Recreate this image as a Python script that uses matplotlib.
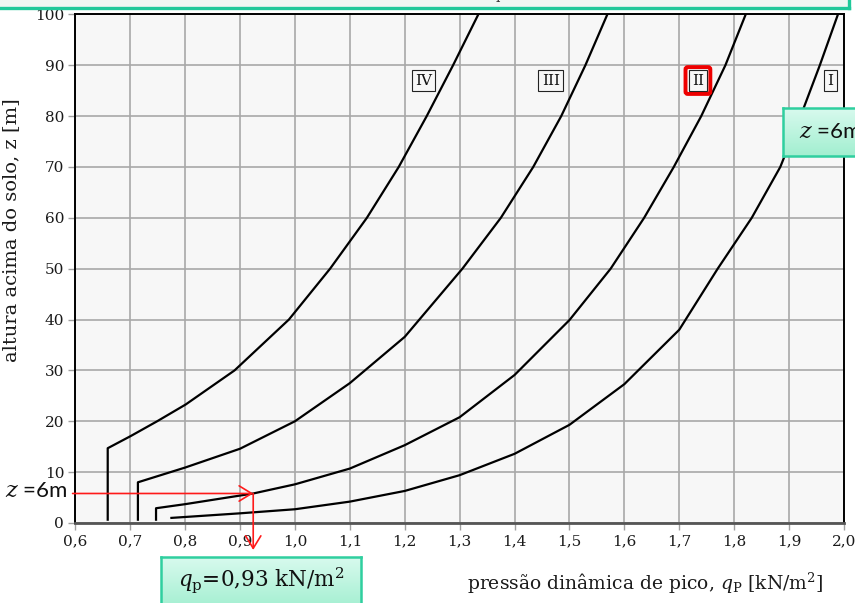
import numpy as np
import matplotlib
matplotlib.use("agg")
import matplotlib.pyplot as plt
from matplotlib.colors import LinearSegmentedColormap

plt.rcParams['font.family'] = ['DejaVu Serif']
plt.rcParams['mathtext.fontset'] = 'dejavuserif'

# curves: peak pressure qp [kN/m2] vs height z [m]
x_IV = [0.659, 0.659, 0.701, 0.749, 0.801, 0.890, 0.989, 1.064, 1.131, 1.189, 1.240, 1.288, 1.334]
z_IV = [0.65, 14.7, 17.1, 20.0, 23.3, 30.0, 40.0, 50.0, 60, 70, 80, 90, 100]
x_III = [0.714, 0.714, 0.800, 0.900, 1.000, 1.100, 1.200, 1.305, 1.375, 1.434, 1.485, 1.529, 1.569]
z_III = [0.65, 8.0, 10.9, 14.6, 20.0, 27.5, 36.6, 50, 60, 70, 80, 90, 100]
x_II = [0.747, 0.747, 0.800, 0.924, 1.000, 1.100, 1.200, 1.300, 1.400, 1.500, 1.575, 1.636, 1.690, 1.740, 1.784, 1.821]
z_II = [0.65, 2.9, 3.7, 5.8, 7.6, 10.7, 15.3, 20.8, 29.1, 39.9, 50, 60, 70, 80, 90, 100]
x_I = [0.775, 0.900, 1.000, 1.100, 1.200, 1.300, 1.400, 1.500, 1.600, 1.700, 1.770, 1.832, 1.884, 1.921, 1.956, 1.989]
z_I = [1.0, 1.9, 2.7, 4.2, 6.3, 9.4, 13.6, 19.3, 27.3, 38.0, 50, 60, 70, 80, 90, 100]

labels = ['IV', 'III', 'II', 'I']
label_x = [1.234, 1.466, 1.734, 1.975]
label_z = 87

z_pick = 5.8
q_pick = 0.924

xticks = np.round(np.arange(0.6, 2.01, 0.1), 1)
yticks = np.arange(0, 101, 10)

fig = plt.figure(figsize=(8.55, 6.03), dpi=100)
ax = fig.add_axes([0.0881, 0.1327, 0.8990, 0.8434])
ax.set_facecolor('#f7f7f7')

for xs, zs in [(x_IV, z_IV), (x_III, z_III), (x_II, z_II), (x_I, z_I)]:
	ax.plot(xs, zs, color='black', lw=1.6, zorder=3)

for lab, lx in zip(labels, label_x):
	if lab == 'II':
		ax.text(lx, label_z, lab, ha='center', va='center', fontsize=11, color='none', zorder=4,
				bbox=dict(boxstyle='round,pad=0.42,rounding_size=0.15', fc='none', ec='#ee0000', lw=2.8))
	ax.text(lx, label_z, lab, ha='center', va='center', fontsize=11, color='#111111', zorder=5,
			bbox=dict(boxstyle='square,pad=0.22', fc='#f7f7f7', ec='#222222', lw=0.8))

ax.set_xlim(0.6, 2.0)
ax.set_ylim(0, 100)
ax.set_xticks(xticks)
ax.set_xticklabels([f"{v:.1f}".replace('.', ',') for v in xticks])
ax.set_yticks(yticks)
ax.grid(True, color='#a8a8a8', lw=1.2, zorder=0)
ax.set_axisbelow(True)
ax.tick_params(direction='out', length=5, width=1, color='#a0a0a0', labelsize=11, labelcolor='#1a1a1a', pad=3)
for s in ['left', 'top', 'right']:
	ax.spines[s].set_color('black')
	ax.spines[s].set_linewidth(1.4)
ax.spines['bottom'].set_color('#555555')
ax.spines['bottom'].set_linewidth(2)

ax.set_ylabel('altura acima do solo, z [m]', fontsize=14, color='#1a1a1a')
ax.yaxis.set_label_coords(-0.083, 0.576)
ax.yaxis.label.set_va('center')
ax.set_xlabel(r'pressão dinâmica de pico, $q_\mathrm{P}$ [kN/m$^2$]', fontsize=13.5, color='#1a1a1a')
ax.xaxis.set_label_coords(0.742, -0.118)
ax.xaxis.label.set_va('center')

# red reading arrows
arr = dict(arrowstyle='->,head_length=0.9,head_width=0.55', color='#ff1a1a', lw=1.2, mutation_scale=10,
		   shrinkA=0, shrinkB=0)
ax.annotate('', xy=(q_pick, z_pick), xytext=(0.595, z_pick), arrowprops=arr, annotation_clip=False, zorder=6)
ax.annotate('', xy=(q_pick, -5.3), xytext=(q_pick, z_pick), arrowprops=arr, annotation_clip=False, zorder=6)

fig.text(5 / 855, 1 - 491 / 603, r'$z$ =6m', family='Lato', fontsize=16, va='center', ha='left', color='#111111')

# green callout boxes
cmap = LinearSegmentedColormap.from_list('mint', ['#d8faee', '#a2efd0'])
def callout(rect):
	b = fig.add_axes(rect)
	b.imshow(np.linspace(0, 1, 64).reshape(-1, 1), cmap=cmap, aspect='auto', extent=[0, 1, 0, 1])
	b.set_xticks([])
	b.set_yticks([])
	for s in b.spines.values():
		s.set_color('#2fcf9f')
		s.set_linewidth(1.8)
	return b

b1 = callout([161 / 855, -7 / 603, 200 / 855, 53 / 603])
b1.text(0.5, 0.57, r'$q_\mathrm{p}$=0,93 kN/m$^2$', transform=b1.transAxes, ha='center', va='center',
		fontsize=15.5, color='#111111')
b2 = callout([783 / 855, 1 - 156 / 603, 100 / 855, 48 / 603])
b2.text(0.16, 0.5, r'$z$ =6m', family='Lato', transform=b2.transAxes, ha='left', va='center',
		fontsize=16, color='#111111')

# clipped banner at top
top = fig.add_axes([-0.01, 1 - 8 / 603, 858 / 855, 20 / 603])
top.set_facecolor('#eef7f3')
top.set_xticks([])
top.set_yticks([])
for s in top.spines.values():
	s.set_color('#1ec99a')
	s.set_linewidth(2.4)
fig.text(496 / 855, 1 + 1 / 603, 'p', fontsize=10, va='baseline', color='#333333')

fig.savefig('out.png', dpi=100)
